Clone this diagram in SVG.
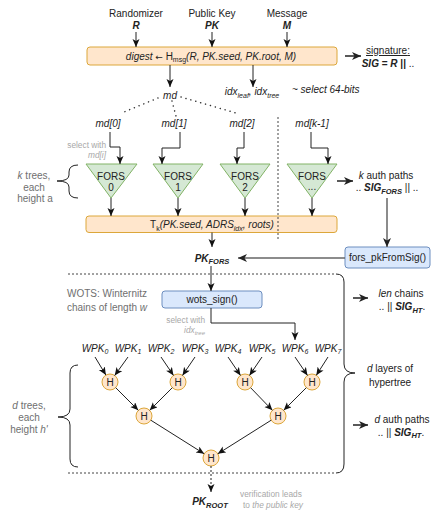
<svg xmlns="http://www.w3.org/2000/svg" width="432" height="510" viewBox="0 0 432 510">
<defs>
<marker id="a" markerUnits="userSpaceOnUse" markerWidth="9" markerHeight="8" refX="8" refY="3.5" orient="auto"><path d="M0,0 L8,3.5 L0,7 L2,3.5 z" fill="#111"/></marker>
<marker id="ag" markerUnits="userSpaceOnUse" markerWidth="10" markerHeight="9" refX="9" refY="4" orient="auto"><path d="M0,0 L9,4 L0,8 L2.5,4 z" fill="#222"/></marker>
</defs>
<style>
text{font-family:"Liberation Sans",Arial,sans-serif;font-size:10px;fill:#222}
.c{text-anchor:middle}
.e{text-anchor:end}
.i{font-style:italic}
.b{font-weight:bold}
.g{fill:#6f6f6f}
.lg{fill:#a8a8a8;font-size:8.3px}
.ln{stroke:#222;stroke-width:1;fill:none}
.lw{stroke:#222;stroke-width:1.5;fill:none}
.gr{stroke:#666;stroke-width:1.5;fill:none}
.dot{stroke:#333;stroke-width:1.5;fill:none;stroke-dasharray:0.1 5;stroke-linecap:round}
.dash{stroke:#444;stroke-width:1;fill:none;stroke-dasharray:2 2}
.box{fill:#ffe6cc;stroke:#dca73a}
.blue{fill:#dae8fc;stroke:#6c8ebf}
.tri{fill:#d5e8d4;stroke:#82b366}
.hc{fill:#ffe6cc;stroke:#dca73a}
</style>
<rect width="432" height="510" fill="#fff"/>

<g id="inputs">
<text class="c" x="136" y="16.5">Randomizer</text>
<text class="c i b" x="136" y="29">R</text>
<text class="c" x="212" y="16.5">Public Key</text>
<text class="c i b" x="212" y="29">PK</text>
<text class="c" x="287" y="16.5">Message</text>
<text class="c i b" x="287" y="29">M</text>
</g>

<g id="digest">
<rect class="box" x="87" y="47" width="250" height="18" rx="3"/>
<text class="c" x="211" y="60"><tspan class="i">digest</tspan> <tspan font-family="DejaVu Sans, sans-serif" font-size="9">←</tspan> H<tspan font-size="7" dy="2">msg</tspan><tspan dy="-2" class="i">(R, PK.seed, PK.root, M)</tspan></text>
</g>

<g id="signature">
<text class="c" x="388" y="54" text-decoration="underline">signature<tspan text-decoration="none">:</tspan></text>
<text class="c" x="388" y="66.5"><tspan class="i b">SIG</tspan><tspan class="b"> = </tspan><tspan class="i b">R</tspan> <tspan class="b">||</tspan> ..</text>
</g>

<g id="md">
<text class="c i" x="170" y="98.5">md</text>
</g>
<g id="idx">
<text class="c i" x="252" y="95">idx<tspan font-size="7" dy="2.5">leaf</tspan><tspan dy="-2.5">, idx</tspan><tspan font-size="7" dy="2.5">tree</tspan></text>
<text class="i" x="292" y="93" fill="#b5b5b5" font-size="7.6">~ select 64-bits</text>
</g>

<g id="md-parts">
<text class="c i" x="108" y="126.5">md[0]</text>
<text class="c i" x="174" y="126.5">md[1]</text>
<text class="c i" x="242" y="126.5">md[2]</text>
<text class="c i" x="312" y="126.5">md[k-1]</text>
<text class="lg e" x="106" y="148">select with</text>
<text class="lg e i" x="106" y="158">md[i]</text>
</g>

<g id="fors0"><polygon class="tri" points="86,164 137,164 111,198"/><text class="c" x="111" y="179.5">FORS</text><text class="c" x="111" y="191">0</text></g>
<g id="fors1"><polygon class="tri" points="153,164 203,164 178,198"/><text class="c" x="178" y="179.5">FORS</text><text class="c" x="178" y="191">1</text></g>
<g id="fors2"><polygon class="tri" points="220,164 270,164 245,198"/><text class="c" x="245" y="179.5">FORS</text><text class="c" x="245" y="191">2</text></g>
<g id="forsk"><polygon class="tri" points="287,164 337,164 312,198"/><text class="c" x="312" y="179.5">FORS</text><text class="c" x="312" y="190">...</text></g>

<g id="k-trees">
<path class="ln" d="M78,165 Q69,165 69,172 L69,175 Q69,181 57,181 Q69,181 69,187 L69,191 Q69,198 78,198"/>
<text class="c g" x="34" y="178.5"><tspan class="i">k</tspan> trees,</text>
<text class="c g" x="34" y="190.5">each</text>
<text class="c g" x="35" y="202">height a</text>
</g>

<g id="k-auth">
<text class="c" x="386" y="178.5"><tspan class="i">k</tspan> auth paths</text>
<text class="c" x="387" y="191">.. <tspan class="i b">SIG</tspan><tspan class="i b" font-size="7.5" dy="2.5">FORS</tspan><tspan dy="-2.5"> || ..</tspan></text>
</g>

<g id="tk">
<rect class="box" x="86" y="216" width="251" height="16.5" rx="3"/>
<text class="c" x="212" y="228">T<tspan font-size="7" dy="2.5">k</tspan><tspan class="i" dy="-2.5">(PK.seed, ADRS</tspan><tspan class="i" font-size="7" dy="2.5">idx</tspan><tspan class="i" dy="-2.5">, roots)</tspan></text>
</g>

<g id="fors-pk-from-sig">
<rect class="blue" x="345" y="247" width="85" height="21" rx="3"/>
<text class="c" x="387.5" y="261">fors_pkFromSig()</text>
</g>

<g id="pk-fors">
<text class="c i b" x="212" y="261.5">PK<tspan font-size="7.5" dy="2.5">FORS</tspan></text>
</g>

<g id="wots-label">
<text class="c g" x="107" y="296.5">WOTS: Winternitz</text>
<text class="c g" x="107" y="310.5">chains of length <tspan class="i">w</tspan></text>
</g>

<g id="wots-sign">
<rect class="blue" x="162" y="291" width="100" height="17" rx="3"/>
<text class="c" x="212" y="303">wots_sign()</text>
<text class="lg e" x="205" y="323">select with</text>
<text class="lg e i" x="205" y="333">idx<tspan font-size="6" dy="2">tree</tspan></text>
</g>

<g id="len-chains">
<text class="c" x="401" y="296.5"><tspan class="i">len</tspan> chains</text>
<text class="c" x="402" y="310">.. || <tspan class="i b">SIG</tspan><tspan class="i b" font-size="7.5" dy="2.5">HT</tspan><tspan dy="-2.5">.</tspan></text>
</g>

<g id="wpk">
<text class="c i" x="95" y="351.5">WPK<tspan font-size="7" dy="2.5">0</tspan></text>
<text class="c i" x="128" y="351.5">WPK<tspan font-size="7" dy="2.5">1</tspan></text>
<text class="c i" x="161" y="351.5">WPK<tspan font-size="7" dy="2.5">2</tspan></text>
<text class="c i" x="195" y="351.5">WPK<tspan font-size="7" dy="2.5">3</tspan></text>
<text class="c i" x="228" y="351.5">WPK<tspan font-size="7" dy="2.5">4</tspan></text>
<text class="c i" x="262" y="351.5">WPK<tspan font-size="7" dy="2.5">5</tspan></text>
<text class="c i" x="295" y="351.5">WPK<tspan font-size="7" dy="2.5">6</tspan></text>
<text class="c i" x="328" y="351.5">WPK<tspan font-size="7" dy="2.5">7</tspan></text>
</g>

<g id="h1a"><circle class="hc" cx="110" cy="382" r="8"/><text class="c" x="110" y="385.5">H</text></g>
<g id="h1b"><circle class="hc" cx="178" cy="382" r="8"/><text class="c" x="178" y="385.5">H</text></g>
<g id="h1c"><circle class="hc" cx="245" cy="382" r="8"/><text class="c" x="245" y="385.5">H</text></g>
<g id="h1d"><circle class="hc" cx="312" cy="382" r="8"/><text class="c" x="312" y="385.5">H</text></g>
<g id="h2a"><circle class="hc" cx="144" cy="416" r="8"/><text class="c" x="144" y="419.5">H</text></g>
<g id="h2b"><circle class="hc" cx="278" cy="416" r="8"/><text class="c" x="278" y="419.5">H</text></g>
<g id="h3"><circle class="hc" cx="211" cy="458" r="8"/><text class="c" x="211" y="461.5">H</text></g>

<g id="d-trees">
<path class="ln" d="M78,365 Q70,365 70,373 L70,409 Q70,417 58,417 Q70,417 70,425 L70,459 Q70,467 78,467"/>
<text class="c g" x="29" y="408.5"><tspan class="i">d</tspan> trees,</text>
<text class="c g" x="29" y="421">each</text>
<text class="c g" x="29" y="433">height <tspan class="i">h'</tspan></text>
</g>

<g id="d-layers">
<path class="ln" d="M336,274 Q344,274 344,282 L344,364 Q344,373 355,373 Q344,373 344,382 L344,464 Q344,473 336,473"/>
<text class="c" x="390" y="371.5"><tspan class="i">d</tspan> layers of</text>
<text class="c" x="390" y="385.5">hypertree</text>
</g>

<g id="d-auth">
<text class="c" x="402" y="423"><tspan class="i">d</tspan> auth paths</text>
<text class="c" x="401" y="435.5">.. || <tspan class="i b">SIG</tspan><tspan class="i b" font-size="7.5" dy="2.5">HT</tspan><tspan dy="-2.5">.</tspan></text>
</g>

<g id="pk-root">
<text class="c i b" x="210" y="505">PK<tspan font-size="7.5" dy="2.5">ROOT</tspan></text>
<text class="lg" x="240" y="497">verification leads</text>
<text class="lg" x="243" y="508">to <tspan class="i">the public key</tspan></text>
</g>

<g id="connectors">
<path class="ln" d="M136,32 V47" marker-end="url(#a)"/>
<path class="ln" d="M212,32 V47" marker-end="url(#a)"/>
<path class="ln" d="M287,32 V47" marker-end="url(#a)"/>
<path class="lw" d="M345,56 H361" marker-end="url(#ag)"/>
<path class="ln" d="M170,65 V87" marker-end="url(#a)"/>
<path class="ln" d="M253,65 V87" marker-end="url(#a)"/>
<path class="dot" d="M158,98 L124,112"/>
<path class="dot" d="M172,101 L176,116"/>
<path class="dot" d="M181,97 L236,113"/>
<path class="dash" d="M278,117 V241" stroke-dasharray="1.5 2"/>
<path class="ln" d="M110,132 V147 H120 V164" marker-end="url(#a)"/>
<path class="ln" d="M180,132 V148 H162 V164" marker-end="url(#a)"/>
<path class="ln" d="M244,132 V148 H237 V164" marker-end="url(#a)"/>
<path class="ln" d="M311,132 V148 H328 V164" marker-end="url(#a)"/>
<path class="ln" d="M111,198 V216" marker-end="url(#a)"/>
<path class="ln" d="M178,198 V216" marker-end="url(#a)"/>
<path class="ln" d="M245,198 V216" marker-end="url(#a)"/>
<path class="ln" d="M312,198 V216" marker-end="url(#a)"/>
<path class="lw" d="M337,181 H353" marker-end="url(#ag)"/>
<path class="gr" d="M387,198 V247" marker-end="url(#ag)"/>
<path class="ln" d="M212,232.5 V247" marker-end="url(#a)"/>
<path class="gr" d="M345,258 H238" marker-end="url(#ag)"/>
<path class="dash" d="M68,274 H336"/>
<path class="ln" d="M211,266 V291" marker-end="url(#a)"/>
<path class="ln" d="M211,308 V323 H295 V340" marker-end="url(#a)"/>
<path class="lw" d="M353,298 H368" marker-end="url(#ag)"/>
<path class="ln" d="M95,357 L105.9,375.1" marker-end="url(#a)"/>
<path class="ln" d="M128,357 L114.7,375.5" marker-end="url(#a)"/>
<path class="ln" d="M161,357 L173.5,375.4" marker-end="url(#a)"/>
<path class="ln" d="M195,357 L182.5,375.4" marker-end="url(#a)"/>
<path class="ln" d="M228,357 L240.5,375.4" marker-end="url(#a)"/>
<path class="ln" d="M262,357 L249.5,375.4" marker-end="url(#a)"/>
<path class="ln" d="M295,357 L307.5,375.4" marker-end="url(#a)"/>
<path class="ln" d="M328,357 L316.3,375.3" marker-end="url(#a)"/>
<path class="ln" d="M115.7,387.7 L138.3,410.3" marker-end="url(#a)"/>
<path class="ln" d="M172.3,387.7 L149.7,410.3" marker-end="url(#a)"/>
<path class="ln" d="M250.6,387.7 L272.4,410.3" marker-end="url(#a)"/>
<path class="ln" d="M306.3,387.7 L283.7,410.3" marker-end="url(#a)"/>
<path class="ln" d="M150.8,420.2 L204.2,453.8" marker-end="url(#a)"/>
<path class="ln" d="M271.2,420.2 L217.8,453.8" marker-end="url(#a)"/>
<path class="lw" d="M353,425 H368" marker-end="url(#ag)"/>
<path class="dash" d="M68,473 H336"/>
<path class="ln" d="M211,466 V492" stroke-dasharray="2 2" marker-end="url(#a)"/>
</g>
</svg>
